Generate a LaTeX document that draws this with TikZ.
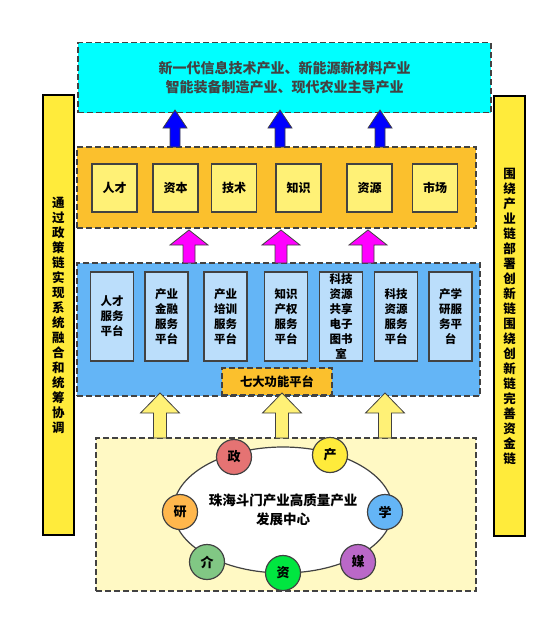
\documentclass[tikz,border=0pt]{standalone}
\usepackage{fontspec}
\setmainfont{Noto Sans CJK SC}
\usepackage{tikz}
\usetikzlibrary{shapes.geometric}

\definecolor{cyanbox}{HTML}{00FFFF}
\definecolor{orangebox}{HTML}{FBC02D}
\definecolor{lightyellow}{HTML}{FFF176}
\definecolor{bluebox}{HTML}{64B5F6}
\definecolor{lightblue}{HTML}{BBDEFB}
\definecolor{paleyellow}{HTML}{FFF9C4}
\definecolor{barYellow}{HTML}{FFEB3B}
\definecolor{edgegray}{HTML}{424242}
\definecolor{arrowblue}{HTML}{0000FF}
\definecolor{arrowpink}{HTML}{FF00FF}

\tikzset{
	dashbox/.style={draw=edgegray, dashed, line width=1.4pt, dash pattern=on 6pt off 3pt, inner sep=0pt}, % big dashed frames
	cellbox/.style={draw=edgegray, line width=1.2pt, inner sep=0pt, align=center, font=\bfseries}, % small boxes inside the frames
	sidebar/.style={draw=black, line width=1.2pt, fill=barYellow, minimum width=31pt, minimum height=440pt, inner sep=0pt, align=center, font=\fontsize{12.5}{15}\selectfont\bfseries}, % the two long bars
	ring/.style={circle, draw=edgegray, line width=1.2pt, minimum size=35pt, inner sep=0pt, font=\fontsize{13}{13}\selectfont\bfseries}, % the seven little circles
	arrowline/.style={draw=edgegray, line width=0.8pt, line join=miter}, % outline of the block arrows
}

% block arrow: x, tail y, tip y, half shaft, half head, head length
\newcommand{\blockarrow}[7][]{%
	\draw[arrowline,#1] ({#2-#5},#3) -- ({#2-#5},{#4+#7}) -- ({#2-#6},{#4+#7}) -- (#2,#4)
		-- ({#2+#6},{#4+#7}) -- ({#2+#5},{#4+#7}) -- ({#2+#5},#3) -- cycle;}

\begin{document}
\begin{tikzpicture}[x=1pt,y=-1pt]
	\fill[white] (0,0) rectangle (554,619);
	\useasboundingbox (0,0) rectangle (554,619);

	% side bars
	\node[sidebar] (leftbar) at (58.5,315) {通\\过\\政\\策\\链\\实\\现\\系\\统\\融\\合\\和\\统\\筹\\协\\调};
	\node[sidebar] (rightbar) at (509.5,316) {围\\绕\\产\\业\\链\\部\\署\\创\\新\\链\\围\\绕\\创\\新\\链\\完\\善\\资\\金\\链};

	% top: industries
	\node[dashbox, fill=cyanbox, minimum width=413pt, minimum height=70pt, align=center,
		font=\fontsize{14}{19}\selectfont\bfseries, text=edgegray] (industry) at (284.5,77.5)
		{新一代信息技术产业、新能源新材料产业\\智能装备制造产业、现代农业主导产业};

	% factors
	\node[dashbox, fill=orangebox, minimum width=399pt, minimum height=81pt] (factors) at (276.5,187.5) {};
	\foreach \x/\name/\txt in {114.5/rc/人才, 175.5/zb/资本, 234/js/技术, 298.5/zs/知识, 369.5/zy/资源, 435/sc/市场}
		\node[cellbox, fill=lightyellow, minimum width=45pt, minimum height=48pt, font=\fontsize{12}{12}\selectfont\bfseries] (\name) at (\x,188) {\txt};

	% platforms
	\node[dashbox, fill=bluebox, minimum width=403pt, minimum height=133pt] (platforms) at (278.5,329.5) {};
	\foreach \x/\name/\txt in {112/p1/人才\\服务\\平台, 166.5/p2/产业\\金融\\服务\\平台, 225.5/p3/产业\\培训\\服务\\平台,
		286/p4/知识\\产权\\服务\\平台, 341/p5/科技\\资源\\共享\\电子\\图书\\室, 396/p6/科技\\资源\\服务\\平台, 450.5/p7/产学\\研服\\务平\\台}
		\node[cellbox, fill=lightblue, minimum width=43pt, minimum height=89pt, font=\fontsize{11.5}{15}\selectfont\bfseries] (\name) at (\x,316.5) {\txt};
	\node[dashbox, fill=orangebox, minimum width=110pt, minimum height=27pt, font=\fontsize{12.3}{12.3}\selectfont\bfseries] (seven) at (277,381.5) {七大功能平台};

	% centre
	\node[dashbox, fill=paleyellow, minimum width=380pt, minimum height=153pt] (base) at (286,514.5) {};
	\node[ellipse, draw=edgegray, line width=1.2pt, fill=white, minimum width=202pt, minimum height=126pt, align=center,
		font=\fontsize{13.5}{19}\selectfont\bfseries] (centre) at (283,510) {珠海斗门产业高质量产业\\发展中心};
	\node[ring, fill={rgb,255:red,229;green,115;blue,115}] (zheng) at (234,457) {政};
	\node[ring, fill={rgb,255:red,255;green,235;blue,59}] (chan) at (330,455) {产};
	\node[ring, fill={rgb,255:red,100;green,181;blue,246}] (xue) at (385,512) {学};
	\node[ring, fill={rgb,255:red,186;green,104;blue,200}] (mei) at (358,562) {媒};
	\node[ring, fill={rgb,255:red,0;green,230;blue,64}] (zi) at (283,573) {资};
	\node[ring, fill={rgb,255:red,129;green,199;blue,132}] (jie) at (207,562) {介};
	\node[ring, fill={rgb,255:red,255;green,183;blue,77}] (yan) at (180,512) {研};

	% block arrows
	\foreach \x in {175,280,380}
		\blockarrow[fill=arrowblue]{\x}{147}{110}{5}{12}{18};
	\foreach \x in {189,281,368}
		\blockarrow[fill=arrowpink]{\x}{263}{230}{6}{19}{15};
	\foreach \x in {160,282,385}
		\blockarrow[fill=lightyellow]{\x}{438}{393}{6.5}{19.5}{20};
\end{tikzpicture}
\end{document}
